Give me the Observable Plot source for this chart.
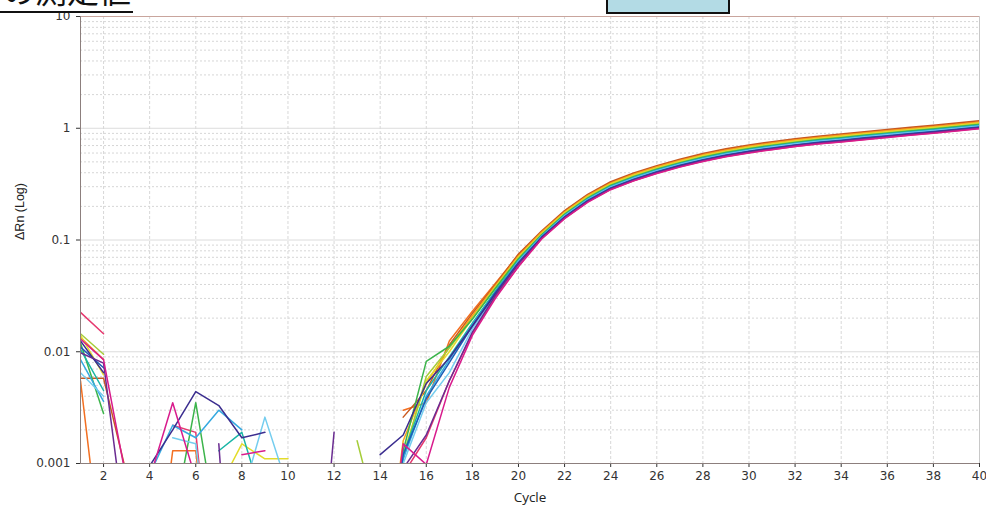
<!DOCTYPE html>
<html><head><meta charset="utf-8">
<script src="https://cdn.jsdelivr.net/npm/d3@7"></script>
<script src="https://cdn.jsdelivr.net/npm/@observablehq/plot@0.6"></script>
<style>
body{margin:0;background:#fff;}
#wrap{position:relative;width:986px;height:507px;overflow:hidden;background:#fff;}
#overlay{position:absolute;left:0;top:0;}
</style></head><body>
<div id="wrap"><div id="chart"></div>
<svg id="overlay" width="986" height="20">
  <text x="131" y="3" text-anchor="end" font-family="Noto Sans CJK JP" font-size="32" fill="#111">の測定値</text>
  <rect x="0" y="11" width="133" height="2" fill="#111"></rect>
  <rect x="607" y="-4" width="122" height="17" fill="#b3dbe5" stroke="#111" stroke-width="2"></rect>
</svg>
</div>
<script>
const _ = null;
const cycles = Array.from({length: 40}, (_, i) => i + 1);
const xTicks = [2,4,6,8,10,12,14,16,18,20,22,24,26,28,30,32,34,36,38,40];
const yTicks = [0.001, 0.01, 0.1, 1, 10];
const yTickLabels = ["0.001", "0.01", "0.1", "1", "10"];
const minorMultipliers = [2,3,4,5,6,7,8,9];
const xLabel = "Cycle";
const yLabel = "ΔRn (Log)";

const wellNames = ["A","B","C","D","E","F","G","H","I","J","K","L","M","N"];
const wellColors = ["#e6396f","#f36f21","#c9581f","#f7a21b","#e3dc2a","#a5cd39","#3cb44b","#19b5a5","#35a9e0","#74cdef","#1c5db5","#3b2d8f","#6a2c91","#d81b8c"];

// cycle 1..40
const wA = [0.0225,0.0145,_,_,0.0022,0.0019,0.00002,_,_,_, _,_,_,_,0.0008,0.0017,0.0055,0.0145,0.031,0.058, 0.102,0.156,0.219,0.284,0.339,0.395,0.451,0.507,0.558,0.605, 0.646,0.688,0.725,0.758,0.795,0.832,0.87,0.907,0.949,0.995];
const wB = [0.0055,0.0001,_,0.00003,0.0013,0.0013,0.00002,_,_,_, _,_,_,_,0.003,0.0035,0.0125,0.023,0.041,0.074, 0.118,0.18,0.251,0.326,0.391,0.455,0.519,0.583,0.642,0.696, 0.744,0.792,0.835,0.872,0.915,0.958,1.0,1.043,1.091,1.145];
const wC = [0.0058,0.0058,0.0008,_,_,_,_,_,_,_, _,_,_,_,0.0026,0.0045,0.0115,0.022,0.04,0.075, 0.12,0.183,0.256,0.332,0.398,0.463,0.529,0.594,0.654,0.709, 0.758,0.807,0.85,0.888,0.932,0.976,1.019,1.063,1.112,1.166];
const wD = [0.0135,0.0085,_,_,_,_,_,_,_,_, _,_,_,0.00004,0.0016,0.0052,0.011,0.021,0.039,0.072, 0.117,0.178,0.249,0.323,0.387,0.451,0.514,0.578,0.636,0.689, 0.737,0.784,0.827,0.864,0.906,0.949,0.991,1.034,1.081,1.134];
const wE = [0.014,0.0062,_,_,_,_,0.0006,0.0015,0.0011,0.0011, _,_,_,0.00004,0.0012,0.0055,0.01,0.02,0.038,0.07, 0.114,0.175,0.244,0.317,0.38,0.442,0.504,0.567,0.624,0.676, 0.723,0.77,0.811,0.848,0.889,0.931,0.972,1.014,1.061,1.113];
const wF = [0.0145,0.0095,_,_,_,_,_,_,_,_, _,_,0.0016,0.00025,0.0011,0.006,0.0108,0.02,0.037,0.068, 0.112,0.171,0.24,0.311,0.372,0.434,0.495,0.556,0.612,0.663, 0.709,0.755,0.796,0.831,0.872,0.913,0.954,0.995,1.04,1.091];
const wG = [0.012,0.0028,_,_,0.00028,0.0035,0.0002,_,_,_, _,_,_,0.00004,0.0013,0.0082,0.0112,0.0195,0.037,0.068, 0.111,0.17,0.237,0.308,0.369,0.429,0.49,0.55,0.606,0.657, 0.702,0.747,0.788,0.823,0.864,0.904,0.944,0.985,1.03,1.081];
const wH = [0.0105,0.0045,_,_,_,_,0.0013,0.0019,0.0004,_, _,_,_,0.00004,0.0012,0.0045,0.009,0.018,0.035,0.066, 0.109,0.167,0.234,0.303,0.363,0.423,0.483,0.542,0.597,0.647, 0.692,0.736,0.776,0.811,0.851,0.891,0.93,0.97,1.015,1.065];
const wI = [0.0085,0.0036,_,0.0008,0.0022,0.0017,0.003,0.002,_,_, _,_,_,0.00004,0.0011,0.004,0.0085,0.0175,0.034,0.065, 0.108,0.165,0.231,0.3,0.36,0.419,0.478,0.537,0.591,0.64, 0.685,0.729,0.768,0.803,0.842,0.882,0.921,0.96,1.005,1.054];
const wJ = [0.0065,0.004,_,_,0.0017,0.0015,0.00003,0.0005,0.0026,0.0006, _,_,_,0.00004,0.001,0.0035,0.0065,0.016,0.033,0.064, 0.107,0.164,0.229,0.297,0.356,0.414,0.473,0.531,0.585,0.634, 0.678,0.722,0.761,0.795,0.834,0.873,0.912,0.951,0.995,1.043];
const wK = [0.011,0.0072,_,_,_,_,_,_,_,_, _,_,_,0.00004,0.0012,0.0038,0.008,0.017,0.034,0.063, 0.106,0.161,0.226,0.293,0.35,0.408,0.466,0.523,0.576,0.624, 0.667,0.71,0.749,0.782,0.821,0.859,0.898,0.936,0.979,1.027];
const wL = [0.0125,0.0065,_,0.00095,0.002,0.0044,0.0033,0.0017,0.0019,_, _,_,_,0.0012,0.0018,0.0052,0.0088,0.017,0.033,0.062, 0.105,0.16,0.223,0.29,0.347,0.404,0.461,0.518,0.57,0.618, 0.66,0.703,0.741,0.774,0.812,0.85,0.888,0.926,0.969,1.017];
const wM = [0.0098,0.0079,0.0002,_,_,_,0.0015,0.000002,_,_, 0.00001,0.0019,_,0.00004,0.0009,0.0018,0.0055,0.015,0.032,0.061, 0.103,0.158,0.221,0.287,0.343,0.4,0.456,0.512,0.564,0.611, 0.653,0.696,0.733,0.766,0.804,0.841,0.879,0.917,0.959,1.006];
const wN = [0.013,0.0085,0.0007,0.00073,0.0035,0.00073,_,0.0012,0.0013,_, _,_,_,0.00003,0.0015,0.00098,0.0048,0.014,0.03,0.058, 0.102,0.155,0.217,0.282,0.338,0.393,0.449,0.504,0.555,0.601, 0.643,0.685,0.722,0.754,0.791,0.828,0.865,0.902,0.944,0.99];
const wells = [wA,wB,wC,wD,wE,wF,wG,wH,wI,wJ,wK,wL,wM,wN];

const rows = [];
wells.forEach((arr, i) => arr.forEach((v, j) => rows.push({well: wellNames[i], cycle: cycles[j], value: v == null ? NaN : v})));

const majorY = yTicks.slice(1, 4);
const minorY = yTicks.slice(0, 4).flatMap(d => minorMultipliers.map(m => d * m));
const yLabelOf = new Map(yTicks.map((t, i) => [t, yTickLabels[i]]));

const chart = Plot.plot({
  width: 986, height: 507,
  marginLeft: 80, marginRight: 7, marginTop: 16, marginBottom: 44,
  style: {fontFamily: "DejaVu Sans, Liberation Sans, Arial", fontSize: "12px", color: "#333", background: "#fff"},
  x: {domain: [1, 40], ticks: xTicks, tickSize: 4, tickPadding: 4, label: null},
  y: {type: "log", domain: [0.001, 10], ticks: yTicks, tickFormat: d => yLabelOf.get(d) ?? "", tickSize: 4, tickPadding: 6, label: null},
  color: {domain: wellNames, range: wellColors},
  marks: [
    Plot.ruleY(minorY, {stroke: "#d6d6d6", strokeDasharray: "2,2"}),
    Plot.ruleY(majorY, {stroke: "#dcdcdc"}),
    Plot.ruleX(xTicks, {stroke: "#d8d8d8", strokeDasharray: "3,2"}),
    Plot.line(rows, {x: "cycle", y: "value", z: "well", stroke: "well", strokeWidth: 1.5, clip: true}),
    Plot.ruleY([10], {stroke: "#c9a59d"}),
    Plot.ruleX([40], {stroke: "#c8c8c8"}),
    Plot.ruleX([1], {stroke: "#8c7f7d"}),
    Plot.ruleY([0.001], {stroke: "#8c7f7d"}),
    Plot.text([xLabel], {text: d => d, frameAnchor: "bottom", dy: 38, fontSize: 13.5, fontFamily: "Open Sans", fill: "#222"}),
    Plot.text([yLabel], {text: d => d, frameAnchor: "left", dx: -61, rotate: -90, fontSize: 12.5, fontFamily: "Liberation Sans, Arial", fill: "#222"})
  ]
});
document.getElementById("chart").appendChild(chart);
</script>
</body></html>
